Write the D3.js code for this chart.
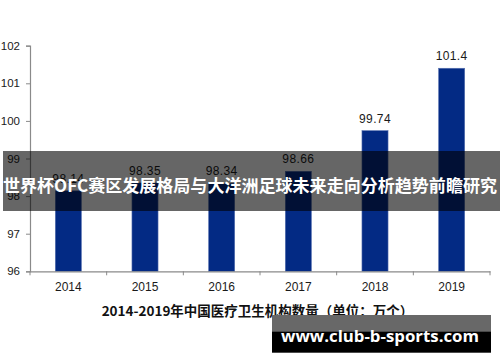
<!DOCTYPE html>
<html>
<head>
<meta charset="utf-8">
<script src="https://cdn.jsdelivr.net/npm/d3@7.9.0/dist/d3.min.js"></script>
<style>
  body { margin: 0; background: #fff; }
  svg { display: block; }
</style>
</head>
<body>
<div id="chart"></div>
<script>
const years = ['2014', '2015', '2016', '2017', '2018', '2019'];
const counts = [98.14, 98.35, 98.34, 98.66, 99.74, 101.4];
const countLabels = ['98.14', '98.35', '98.34', '98.66', '99.74', '101.4'];
const yTicks = [96, 97, 98, 99, 100, 101, 102];

const chartTitle = '2014-2019年中国医疗卫生机构数量（单位：万个）';
const bannerText = '世界杯OFC赛区发展格局与大洋洲足球未来走向分析趋势前瞻研究';
const siteText = 'www.club-b-sports.com';

const width = 500;
const height = 362;
const axisColor = '#8a8a8a';

const svg = d3.select('#chart')
  .append('svg')
  .attr('width', width)
  .attr('height', height);

const x = d3.scaleBand()
  .domain(years)
  .range([30, 490])
  .paddingInner(0.66)
  .paddingOuter(0.33);

const y = d3.scaleLinear()
  .domain([96, 102])
  .range([271.3, 45.7]);

// bars
svg.append('g')
  .selectAll('rect')
  .data(years)
  .join('rect')
  .attr('x', d => x(d))
  .attr('y', (d, i) => y(counts[i]))
  .attr('width', x.bandwidth())
  .attr('height', (d, i) => y(96) - y(counts[i]))
  .attr('fill', '#032a84')
  .attr('stroke', '#5670b0')
  .attr('stroke-width', 0.6);

// value labels
svg.append('g')
  .selectAll('text')
  .data(years)
  .join('text')
  .attr('x', d => x(d) + x.bandwidth() / 2)
  .attr('y', (d, i) => y(counts[i]) - 8)
  .attr('text-anchor', 'middle')
  .attr('font-family', 'Liberation Sans, Arial, sans-serif')
  .attr('font-size', 12)
  .attr('letter-spacing', 0.4)
  .attr('fill', '#1a1a1a')
  .text((d, i) => countLabels[i]);

// y axis
const yAxis = svg.append('g')
  .attr('transform', 'translate(30,0)')
  .call(d3.axisLeft(y).tickValues(yTicks).tickSize(4).tickPadding(6).tickFormat(d3.format('d')));
yAxis.select('.domain').attr('stroke', axisColor).attr('stroke-width', 1.2);
yAxis.selectAll('.tick line').attr('stroke', axisColor);
yAxis.selectAll('.tick text')
  .attr('font-family', 'Liberation Sans, Arial, sans-serif')
  .attr('font-size', 11.5)
  .attr('fill', '#1a1a1a');

// x axis: labels under bands, ticks on band boundaries
const xAxis = svg.append('g')
  .attr('transform', `translate(0,${y(96)})`)
  .call(d3.axisBottom(x).tickSize(0).tickPadding(11));
xAxis.select('.domain').attr('stroke', axisColor).attr('stroke-width', 1.2);
xAxis.selectAll('.tick text')
  .attr('font-family', 'Liberation Sans, Arial, sans-serif')
  .attr('font-size', 12)
  .attr('fill', '#1a1a1a');

const bounds = d3.range(years.length + 1).map(i => x.range()[0] + i * x.step());
xAxis.selectAll('.bound')
  .data(bounds)
  .join('line')
  .attr('class', 'bound')
  .attr('x1', d => d)
  .attr('x2', d => d)
  .attr('y1', 0)
  .attr('y2', 4)
  .attr('stroke', axisColor);

// chart title
svg.append('text')
  .attr('x', 257.5)
  .attr('y', 316)
  .attr('text-anchor', 'middle')
  .attr('font-family', 'Noto Sans CJK SC, sans-serif')
  .attr('font-weight', 'bold')
  .attr('font-size', 13.5)
  .attr('fill', '#111')
  .text(chartTitle);

// banner overlay
svg.append('rect')
  .attr('x', 3)
  .attr('y', 151)
  .attr('width', 497)
  .attr('height', 60)
  .attr('fill', 'rgba(0,0,0,0.6)');

svg.append('text')
  .attr('x', 250)
  .attr('y', 184)
  .attr('text-anchor', 'middle')
  .attr('dominant-baseline', 'central')
  .attr('font-family', 'Noto Sans CJK SC, sans-serif')
  .attr('font-weight', 'bold')
  .attr('font-size', 17)
  .attr('textLength', 494)
  .attr('lengthAdjust', 'spacingAndGlyphs')
  .attr('fill', '#fff')
  .text(bannerText);

// site box
svg.append('rect')
  .attr('x', 272)
  .attr('y', 315)
  .attr('width', 219)
  .attr('height', 17)
  .attr('fill', '#686868');
svg.append('rect')
  .attr('x', 272)
  .attr('y', 331.7)
  .attr('width', 219)
  .attr('height', 21)
  .attr('fill', '#000');

svg.append('text')
  .attr('x', 281)
  .attr('y', 341.7)
  .attr('font-family', 'Open Sans, sans-serif')
  .attr('font-weight', 'bold')
  .attr('font-size', 16)
  .attr('textLength', 198)
  .attr('lengthAdjust', 'spacingAndGlyphs')
  .attr('fill', '#fff')
  .text(siteText);
</script>
</body>
</html>
